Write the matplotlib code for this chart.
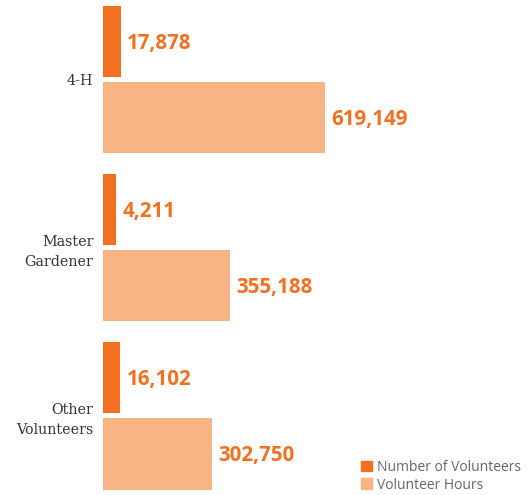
import matplotlib
matplotlib.use('Agg')
import matplotlib.pyplot as plt
from matplotlib.patches import Patch

# data
categories = ['4-H', 'Master\nGardener', 'Other\nVolunteers']
volunteers = [17878, 4211, 16102]
hours = [619149, 355188, 302750]

dark = '#F37021'
light = '#F8B484'
W, H = 529, 495

fig = plt.figure(figsize=(W / 100, H / 100), dpi=100)
ax = fig.add_axes([103 / W, 0, 1 - 103 / W, 1])
ax2 = ax.twiny()

ypos = list(range(len(categories)))
bar_h = 71 / 168
off = 38 / 168

# hours, linear from zero
ax.barh([y + off for y in ypos], hours, height=bar_h, color=light)
ax.set_xlim(0, (W - 103) * 2789)

# volunteers use their own scale with a small baseline
vol_base = -31300
ax2.barh([y - off for y in ypos], [v - vol_base for v in volunteers],
         left=vol_base, height=bar_h, color=dark)
ax2.set_xlim(vol_base, vol_base + (W - 103) * 2733)

for a in (ax, ax2):
    a.set_ylim(2.470, -0.473)
    for s in a.spines.values():
        s.set_visible(False)
    a.tick_params(length=0)
    a.set_xticks([])

lbl = dict(color=dark, fontsize=14.8, fontweight='bold', family=['Open Sans', 'DejaVu Sans'],
           va='center', ha='left', textcoords='offset points')
for y, v in zip(ypos, volunteers):
    ax2.annotate(f'{v:,}', (v, y - off + 0.01), xytext=(4.5, 0), **lbl)
for y, v in zip(ypos, hours):
    ax.annotate(f'{v:,}', (v, y + off + 0.01), xytext=(4.5, 0), **lbl)

ax.set_yticks(ypos)
ax.set_yticklabels(categories, family=['DejaVu Serif'], fontsize=10.3,
                   color='#333333', linespacing=1.55)
ax.tick_params(axis='y', pad=7)

handles = [Patch(color=dark, label='Number of Volunteers'),
           Patch(color=light, label='Volunteer Hours')]
fig.legend(handles=handles, loc='lower right', bbox_to_anchor=(1.0, -0.012), frameon=False,
           handlelength=0.8, handleheight=0.8, handletextpad=0.35,
           labelspacing=0.2, borderpad=0.1, labelcolor='#666666',
           prop={'family': ['Open Sans', 'DejaVu Sans'], 'size': 10})

fig.savefig('out.png', dpi=100)
